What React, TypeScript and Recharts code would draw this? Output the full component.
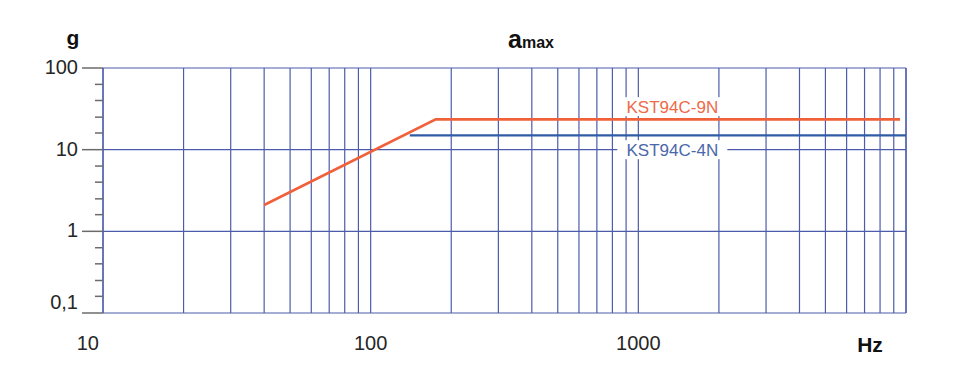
import { CartesianGrid, Line, LineChart, ReferenceDot, ReferenceLine, XAxis, YAxis } from 'recharts';

// frequency grid (Hz) and labelled decades
const freqTicks = [
  10, 20, 30, 40, 50, 60, 70, 80, 90,
  100, 200, 300, 400, 500, 600, 700, 800, 900,
  1000, 2000, 3000, 4000, 5000, 6000, 7000, 8000, 9000, 10000,
];
const freqLabels = [10, 100, 1000];

// acceleration ticks (g): decades plus the short marks in between
const gTicks = [
  0.1, 0.16, 0.25, 0.4, 0.63,
  1, 1.6, 2.5, 4, 6.3,
  10, 16, 25, 40, 63, 100,
];
const gMajor = [0.1, 1, 10, 100];
const gLabels = ['0,1', '1', '10', '100'];

// KST94C-9N
const kst9nFreq = [40, 175, 9500];
const kst9nG = [2.1, 23.5, 23.5];
// KST94C-4N
const kst4nFreq = [140, 10000];
const kst4nG = [15, 15];

const seriesNames = ['KST94C-9N', 'KST94C-4N'];
const seriesTagAt = [
  { f: 1340, g: 33.6 },
  { f: 1340, g: 10 },
];

const kst9n = kst9nFreq.map((f, i) => ({ f, g: kst9nG[i] }));
const kst4n = kst4nFreq.map((f, i) => ({ f, g: kst4nG[i] }));

const FONT = '"Liberation Sans", Arial, sans-serif';
const GRID = '#4d5caa';
const ORANGE = '#f0603a';
const BLUE = '#2f5ca5';

function FreqTick({ x, y, payload }: any) {
  const v = payload.value;
  if (!freqLabels.includes(v)) return <g />;
  // the lowest label sits left of the frame in the original
  const first = v === freqTicks[0];
  return (
    <text
      x={first ? x - 4 : x}
      y={y + 37}
      textAnchor={first ? 'end' : 'middle'}
      fontFamily={FONT}
      fontSize={20}
      fill="#262626"
    >
      {v}
    </text>
  );
}

function GTick({ x, y, payload }: any) {
  const v = payload.value;
  const idx = gMajor.indexOf(v);
  const major = idx >= 0;
  return (
    <g>
      <line x1={x - (major ? 21 : 8)} x2={x} y1={y} y2={y} stroke="#6b6b6b" strokeWidth={1.5} />
      {major && (
        <text
          x={x - 25}
          y={idx === 0 ? y - 4 : y + 6}
          textAnchor="end"
          fontFamily={FONT}
          fontSize={20}
          fill="#262626"
        >
          {gLabels[idx]}
        </text>
      )}
    </g>
  );
}

function seriesTag(name: string, color: string) {
  return (p: any) => (
    <g>
      <rect x={p.cx - 55} y={p.cy - 9.5} width={110} height={19} fill="#fff" />
      <text
        x={p.cx}
        y={p.cy + 6}
        textAnchor="middle"
        fontFamily={FONT}
        fontSize={17}
        fill={color}
      >
        {name}
      </text>
    </g>
  );
}

export default function App() {
  return (
    <div style={{ position: 'absolute', left: 0, top: 0, width: 956, height: 374, background: '#fff' }}>
      <LineChart width={956} height={374} margin={{ top: 68, right: 50, bottom: 0, left: 0 }}>
        <CartesianGrid horizontal={false} stroke={GRID} strokeWidth={1.2} />
        <XAxis
          dataKey="f"
          type="number"
          scale="log"
          domain={[10, 10000]}
          allowDataOverflow
          ticks={freqTicks}
          interval={0}
          tick={<FreqTick />}
          tickLine={false}
          axisLine={false}
          tickSize={0}
          tickMargin={0}
          height={61}
        />
        <YAxis
          type="number"
          scale="log"
          domain={[0.1, 100]}
          allowDataOverflow
          ticks={gTicks}
          interval={0}
          tick={<GTick />}
          tickLine={false}
          axisLine={false}
          tickSize={0}
          tickMargin={0}
          width={103}
        />
        {gMajor.map((v) => (
          <ReferenceLine key={`h${v}`} y={v} stroke={GRID} strokeWidth={1.2} />
        ))}
        <ReferenceLine x={freqTicks[0]} stroke={GRID} strokeWidth={1.2} />
        <ReferenceLine x={freqTicks[freqTicks.length - 1]} stroke={GRID} strokeWidth={1.2} />
        <ReferenceDot
          x={seriesTagAt[0].f}
          y={seriesTagAt[0].g}
          r={0}
          shape={seriesTag(seriesNames[0], '#ee6a48')}
        />
        <ReferenceDot
          x={seriesTagAt[1].f}
          y={seriesTagAt[1].g}
          r={0}
          shape={seriesTag(seriesNames[1], '#4a68a8')}
        />
        <Line
          data={kst4n}
          dataKey="g"
          type="linear"
          stroke={BLUE}
          strokeWidth={2.2}
          dot={false}
          activeDot={false}
          isAnimationActive={false}
        />
        <Line
          data={kst9n}
          dataKey="g"
          type="linear"
          stroke={ORANGE}
          strokeWidth={2.6}
          dot={false}
          activeDot={false}
          isAnimationActive={false}
        />
        <text x={73} y={45} textAnchor="middle" fontFamily={FONT} fontSize={21} fontWeight="bold" fill="#111">
          g
        </text>
        <text x={508} y={48} fontFamily={FONT} fontWeight="bold" fill="#111">
          <tspan fontSize={25}>a</tspan>
          <tspan fontSize={16}>max</tspan>
        </text>
        <text x={870} y={352} textAnchor="middle" fontFamily={FONT} fontSize={21} fontWeight="bold" fill="#111">
          Hz
        </text>
      </LineChart>
    </div>
  );
}
